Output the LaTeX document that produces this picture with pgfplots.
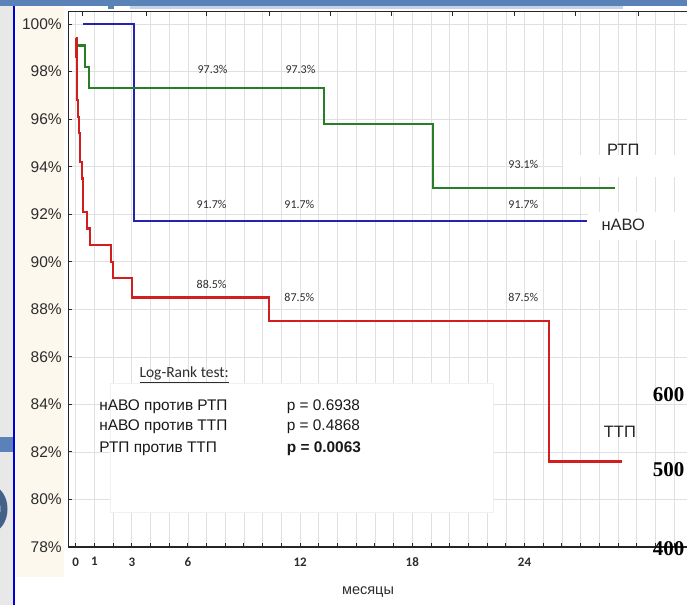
\documentclass[border=0pt]{standalone}
\usepackage{pgfplots}
\pgfplotsset{compat=1.18}
\usepackage{fontspec}
\setmainfont{Liberation Sans}
\newfontfamily\calibri{Carlito}
\newfontfamily\timesf{Liberation Serif}
\definecolor{navo}{RGB}{35,35,175}
\definecolor{rtp}{RGB}{40,125,40}
\definecolor{ttp}{RGB}{210,30,30}
\definecolor{slideblue}{RGB}{91,130,184}
\definecolor{cream}{RGB}{252,248,237}
\definecolor{txt}{RGB}{45,45,45}
\newcommand{\fs}[2]{\fontsize{#1bp}{#2bp}\selectfont}
\begin{document}
\begin{tikzpicture}
\useasboundingbox (0,0) rectangle (687bp,605bp);
\clip (0,0) rectangle (687bp,605bp);
\begin{scope}[x=1bp,y=1bp]
\fill[white] (0,0) rectangle (687,605);
\fill[black!9] (0,0) rectangle (13.3,605);
\fill[cream] (15.5,28) rectangle (64,599);
\fill[slideblue] (0,153) rectangle (13.3,168);
\draw[slideblue!75!black, line width=7bp] (-10,96) ellipse [x radius=14, y radius=20];
\draw[blue!85!black, line width=2bp] (14.4,0) -- (14.4,605);
\fill[slideblue!35] (130,596) rectangle (623,599.5);
\fill[slideblue] (0,599) rectangle (687,605);
\fill[slideblue] (108,596) rectangle (114,605);
\end{scope}

\begin{axis}[
  at={(68.4bp,58bp)}, anchor=south west,
  scale only axis, width=624.4bp, height=535.3bp,
  xmin=-0.39, xmax=33, ymin=78, ymax=100.52,
  clip=false,
  axis line style={black!85, line width=1.4bp},
  tick pos=left, tick align=inside,
  major tick length=3.5bp,
  tick style={black!85, line width=1bp},
  xtick={0,...,32},
  xticklabels={0,1,{},3,{},{},6,{},{},{},{},{},12,{},{},{},{},{},18,{},{},{},{},{},24,{},{},{},{},{},{},{},{}},
  ytick={78,80,...,100},
  yticklabels={78\%,80\%,82\%,84\%,86\%,88\%,90\%,92\%,94\%,96\%,98\%,100\%},
  xticklabel style={font=\calibri\bfseries\fs{13}{15}, text=txt, yshift=-7bp},
  yticklabel style={font=\fs{15.5}{18}, text=txt, xshift=-3.2bp},
  grid=major,
  major grid style={black!12, line width=0.6bp},
]
% white boxes
\fill[white] (axis cs:26.07,94.49) rectangle (axis cs:33,93.58);
\fill[white] (axis cs:27.38,92.09) rectangle (axis cs:33,90.92);
\fill[white, draw=black!6] (axis cs:1.83,84.89) rectangle (axis cs:22.33,79.47);

\addplot[const plot, navo, line width=2.2bp] table {
x y
0.39 100
3.12 91.7
27.33 91.7
};
\addplot[const plot, rtp, line width=2.2bp] table {
x y
0.02 99.1
0.50 98.2
0.71 97.3
13.28 95.8
19.09 93.1
28.84 93.1
};
\addplot[const plot, ttp, line width=2.2bp] table {
x y
0.02 99.4
0.04 98.6
0.06 97.6
0.08 96.8
0.12 96.1
0.16 95.4
0.23 94.2
0.32 93.5
0.41 92.1
0.59 91.4
0.76 90.7
1.87 90.0
2.01 89.3
2.99 88.5
10.35 87.5
25.3 81.6
29.2 81.6
};

% value annotations
\begin{scope}[every node/.style={font=\calibri\fs{12}{14}, text=txt}]
\node at (axis cs:7.32,98.11) {97.3\%};
\node at (axis cs:12.02,98.11) {97.3\%};
\node at (axis cs:23.94,94.11) {93.1\%};
\node at (axis cs:7.27,92.43) {91.7\%};
\node at (axis cs:11.96,92.43) {91.7\%};
\node at (axis cs:23.94,92.43) {91.7\%};
\node at (axis cs:7.27,89.06) {88.5\%};
\node at (axis cs:11.96,88.49) {87.5\%};
\node at (axis cs:23.94,88.49) {87.5\%};
\end{scope}

% curve labels
\node[font=\fs{16.5}{19}, text=black!85] at (axis cs:29.28,94.70) {РТП};
\node[font=\fs{16.5}{19}, text=black!85] at (axis cs:29.28,91.55) {нАВО};
\node[font=\fs{16.5}{19}, text=black!85] at (axis cs:29.1,82.85) {ТТП};

% log-rank block
\node[font=\calibri\fs{15.5}{18}, text=txt] at (axis cs:5.80,85.24) {\underline{Log-Rank test:}};
\begin{scope}[every node/.style={anchor=west, inner sep=0, font=\fs{15.4}{18}, text=black!90}]
\node at (axis cs:1.26,83.90) {нАВО против РТП};
\node at (axis cs:1.26,83.04) {нАВО против ТТП};
\node at (axis cs:1.26,82.15) {РТП против ТТП};
\node at (axis cs:11.28,83.90) {p = 0.6938};
\node at (axis cs:11.28,83.04) {p = 0.4868};
\node[font=\bfseries\fs{15.4}{18}] at (axis cs:11.28,82.15) {p = 0.0063};
\end{scope}

\node[font=\fs{14.5}{17}, text=txt] at (axis cs:15.63,76.11) {месяцы};
\end{axis}

% top ticks
\begin{axis}[
  at={(68.4bp,58bp)}, anchor=south west,
  scale only axis, width=624.4bp, height=535.3bp,
  xmin=-0.39, xmax=33, ymin=78, ymax=100.52,
  axis line style={draw=none},
  xtick pos=right, tick align=inside,
  major tick length=4bp,
  tick style={black!85, line width=1bp},
  xtick={0.39,3.76,7.02,10.34,13.60,16.91,20.17,23.44,26.75,30.07},
  xticklabels={{},{},{},{},{},{},{},{},{},{}},
  ytick=\empty,
]
\end{axis}

\begin{scope}[x=1bp,y=1bp]
\begin{scope}[every node/.style={anchor=west, inner sep=0, font=\timesf\bfseries\fs{21}{24}, text=black}]
\node at (652.7,210) {600};
\node at (652.7,135) {500};
\node at (652.7,56.7) {400};
\end{scope}
\end{scope}
\end{tikzpicture}
\end{document}
